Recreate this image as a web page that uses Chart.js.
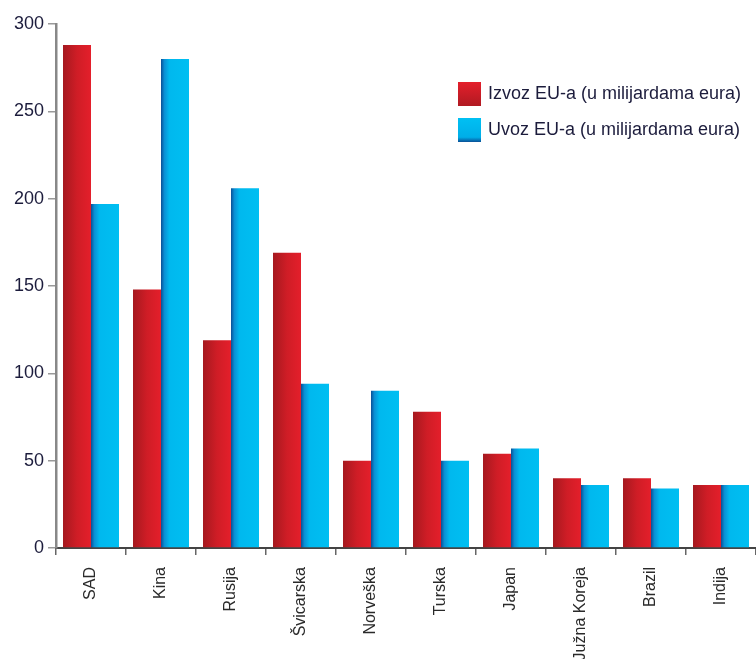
<!DOCTYPE html>
<html><head><meta charset="utf-8">
<script src="https://cdn.jsdelivr.net/npm/chart.js@4.4.1/dist/chart.umd.min.js"></script>
<style>html,body{margin:0;padding:0;background:#fff}#wrap{width:756px;height:659px}</style>
</head><body><div id="wrap"><canvas id="c" width="756" height="659"></canvas></div>
<script>
const categories = ["SAD","Kina","Rusija","Švicarska","Norveška","Turska","Japan","Južna Koreja","Brazil","Indija"];
const izvoz = [288,148,119,169,50,78,54,40,40,36];
const uvoz = [197,280,206,94,90,50,57,36,34,36];
const yTicks = [0,50,100,150,200,250,300];
const seriesLabels = ["Izvoz EU-a (u milijardama eura)","Uvoz EU-a (u milijardama eura)"];

function barGradient(ctx, i, x0, x1){
  const g = ctx.createLinearGradient(x0,0,x1,0);
  if(i===0){ g.addColorStop(0,'#a5191f'); g.addColorStop(0.5,'#cf1d26'); g.addColorStop(1,'#e41f2b'); }
  else { g.addColorStop(0,'#0a4f96'); g.addColorStop(0.12,'#0a8fd4'); g.addColorStop(0.3,'#00b8ee'); g.addColorStop(1,'#00bff2'); }
  return g;
}
function scriptBg(c){ return c.datasetIndex===0 ? '#d01d26' : '#00b9ef'; }
const gradPlugin = {
  id:'grad',
  beforeDatasetsDraw(chart){
    const ctx = chart.ctx;
    chart.data.datasets.forEach((ds,i)=>{
      chart.getDatasetMeta(i).data.forEach(el=>{
        const x0 = el.x - el.width/2, x1 = el.x + el.width/2;
        if(isFinite(x0) && isFinite(x1)) el.options.backgroundColor = barGradient(ctx, i, x0, x1);
      });
    });
  }
};
const legendPlugin = {
  id:'customLegend',
  afterDraw(chart){
    const ctx = chart.ctx;
    ctx.save();
    ctx.font = '18px "Liberation Sans", Arial, sans-serif';
    ctx.textBaseline = 'middle';
    [0,1].forEach(i=>{
      const x=458, y=82+i*36;
      const g = ctx.createLinearGradient(0,y,0,y+24);
      if(i===0){ g.addColorStop(0,'#e41f2b'); g.addColorStop(1,'#b01a22'); }
      else { g.addColorStop(0,'#00c0f3'); g.addColorStop(0.8,'#00aee8'); g.addColorStop(1,'#0a4f96'); }
      ctx.fillStyle = g;
      ctx.fillRect(x,y,23,24);
      ctx.fillStyle = '#1c1c3c';
      ctx.fillText(seriesLabels[i], x+30, y+12);
    });
    ctx.restore();
  }
};

new Chart(document.getElementById('c'),{
  type:'bar',
  data:{labels:categories,datasets:[
    {label:seriesLabels[0],data:izvoz,backgroundColor:scriptBg,barPercentage:1.0,categoryPercentage:0.8},
    {label:seriesLabels[1],data:uvoz,backgroundColor:scriptBg,barPercentage:1.0,categoryPercentage:0.8}
  ]},
  options:{
    responsive:false,animation:false,
    layout:{padding:{top:24,left:0,right:0,bottom:0}},
    plugins:{legend:{display:false},tooltip:{enabled:false}},
    scales:{
      x:{
        offset:true,
        grid:{display:true,drawOnChartArea:false,drawTicks:true,tickLength:7,color:'#666',lineWidth:1.5,offset:true},
        border:{display:true,color:'#444',width:2},
        ticks:{minRotation:90,maxRotation:90,autoSkip:false,padding:12,color:'#2a2a2a',font:{family:'"Liberation Sans", Arial, sans-serif',size:16}},
        afterFit(s){ s.height = 111; }
      },
      y:{
        min:0,max:300,
        afterBuildTicks(s){ s.ticks = yTicks.map(v=>({value:v})); },
        grid:{display:true,drawOnChartArea:false,drawTicks:true,tickLength:8,color:'#999',lineWidth:1.5},
        border:{display:true,color:'#888',width:2.5},
        ticks:{padding:4,color:'#1c1c3c',font:{family:'"Liberation Sans", Arial, sans-serif',size:18}},
        afterFit(s){ s.width = 56; }
      }
    }
  },
  plugins:[gradPlugin,legendPlugin]
});
</script></body></html>
